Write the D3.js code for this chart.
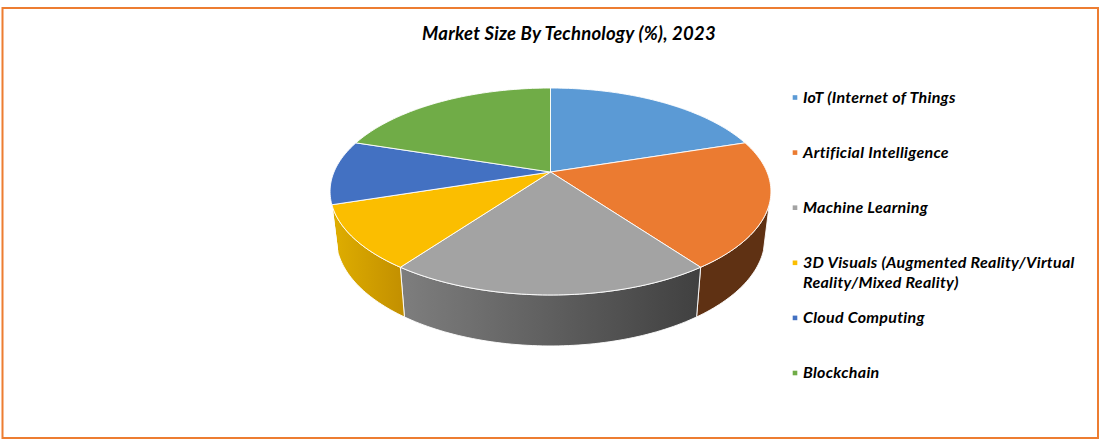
<!DOCTYPE html>
<html>
<head>
<meta charset="utf-8">
<title>Market Size By Technology</title>
<script src="https://cdn.jsdelivr.net/npm/d3@7/dist/d3.min.js"></script>
<style>
  html, body { margin: 0; padding: 0; background: #fff; }
  svg { display: block; }
  text { font-family: Lato, "Open Sans", sans-serif; font-weight: 700; font-style: italic; fill: #000; }
</style>
</head>
<body>
<svg id="chart" width="1103" height="444"></svg>
<script>
const categories = [
  ['IoT (Internet of Things'],
  ['Artificial Intelligence'],
  ['Machine Learning'],
  ['3D Visuals (Augmented Reality/Virtual', 'Reality/Mixed Reality)'],
  ['Cloud Computing'],
  ['Blockchain']
]
const shares = [20, 20, 20, 10, 10, 20]
const topColors = ['#5b9ad5', '#eb7b31', '#a3a3a3', '#fbbe00', '#4371c2', '#70ac47']
const wallLeft = ['#5b9ad5', '#5f3113', '#7e7e7e', '#dfae00', '#4371c2', '#70ac47']
const wallRight = ['#5b9ad5', '#5f3113', '#404040', '#c28f00', '#4371c2', '#70ac47']

const svg = d3.select('#chart')

svg.append('rect')
  .attr('x', 2.5).attr('y', 8)
  .attr('width', 1095.5).attr('height', 430)
  .attr('fill', '#fff')
  .attr('stroke', '#ed7d31')
  .attr('stroke-width', 2)

svg.append('text')
  .attr('x', 569)
  .attr('y', 39.5)
  .attr('text-anchor', 'middle')
  .attr('font-size', 18.5)
  .attr('letter-spacing', 0.23)
  .text('Market Size By Technology (%), 2023')

// perspective of the disc: the near edge is drawn larger than the far edge
const k = 0.1884
const cx = 550.5
const cy = 172
const rx = 216.5
const ry = 99.8

const project = (angle, plane) => {
  const u = Math.sin(angle)
  const v = -Math.cos(angle)
  const w = 1 - k * v
  return [cx + plane.sx * rx * u / w, plane.cy + plane.sy * ry * v / w]
}
const upper = { cy: cy, sx: 1, sy: 1 }
const lower = { cy: 217.2, sx: 0.973, sy: 1.047 }

const pie = d3.pie().sort(null).value(d => d)(shares)
const line = d3.line()

const arcAngles = (a0, a1) => {
  const n = Math.max(2, Math.ceil((a1 - a0) / 0.02))
  return d3.range(n + 1).map(i => a0 + (a1 - a0) * i / n)
}

// walls, only the part of the rim that faces the viewer
const frontStart = 107.6 * Math.PI / 180
const frontEnd = 252.4 * Math.PI / 180
const defs = svg.append('defs')

pie.forEach((slice, i) => {
  const a0 = Math.max(slice.startAngle, frontStart)
  const a1 = Math.min(slice.endAngle, frontEnd)
  if (a1 <= a0) return

  const angles = arcAngles(a0, a1)
  const outline = angles.map(a => project(a, upper))
    .concat(angles.slice().reverse().map(a => project(a, lower)))

  const xs = outline.map(p => p[0])
  const grad = defs.append('linearGradient')
    .attr('id', 'wall' + i)
    .attr('gradientUnits', 'userSpaceOnUse')
    .attr('x1', d3.min(xs)).attr('x2', d3.max(xs))
    .attr('y1', 0).attr('y2', 0)
  grad.append('stop').attr('offset', 0).attr('stop-color', wallLeft[i])
  grad.append('stop').attr('offset', 1).attr('stop-color', wallRight[i])

  svg.append('path')
    .attr('d', line(outline) + 'Z')
    .attr('fill', `url(#wall${i})`)
    .attr('stroke', '#fff')
    .attr('stroke-width', 0.9)
    .attr('stroke-linejoin', 'round')
})

// top of the disc
pie.forEach((slice, i) => {
  const rim = arcAngles(slice.startAngle, slice.endAngle).map(a => project(a, upper))
  svg.append('path')
    .attr('d', line([[cx, cy]].concat(rim)) + 'Z')
    .attr('fill', topColors[i])
    .attr('stroke', '#fff')
    .attr('stroke-width', 0.9)
    .attr('stroke-linejoin', 'round')
})

// legend
const legendY = d3.scalePoint()
  .domain(d3.range(categories.length))
  .range([97.5, 373])

const legend = svg.append('g')
  .selectAll('g')
  .data(categories)
  .enter()
  .append('g')

legend.append('rect')
  .attr('x', 792.7)
  .attr('y', (d, i) => legendY(i) - 2.3)
  .attr('width', 4.6)
  .attr('height', 4.6)
  .attr('fill', (d, i) => topColors[i])

legend.each(function (lines, i) {
  d3.select(this).selectAll('text')
    .data(lines)
    .enter()
    .append('text')
    .attr('x', 803)
    .attr('y', (d, j) => legendY(i) + 5.2 + j * 20)
    .attr('font-size', 16)
    .attr('letter-spacing', 0.3)
    .text(d => d)
})
</script>
</body>
</html>
